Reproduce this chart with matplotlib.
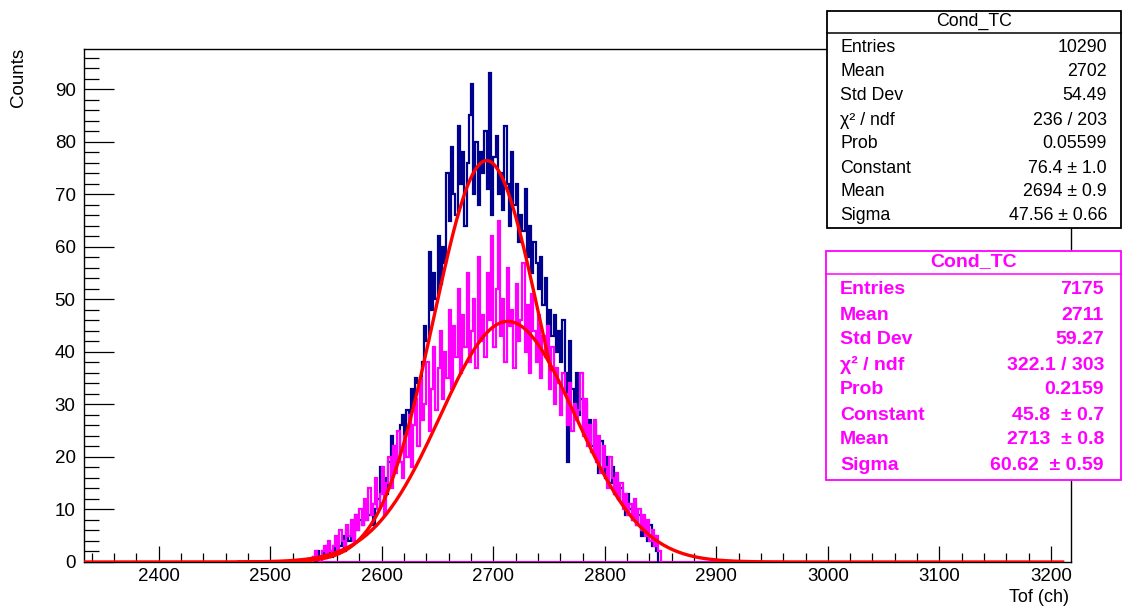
import numpy as np
import matplotlib
matplotlib.use('Agg')
import matplotlib.pyplot as plt
from matplotlib.patches import Rectangle
from matplotlib.ticker import MultipleLocator
from matplotlib.lines import Line2D

plt.rcParams['font.family'] = ['Liberation Sans', 'DejaVu Sans']

# ---------------- data ----------------
bin_start = 2536
bin_width = 2

blue_counts = [
    0, 1, 0, 2, 1, 2,
    1, 3, 2, 1, 3, 2,
    4, 3, 5, 2, 6, 4,
    7, 5, 9, 6, 8, 7,
    10, 8, 9, 11, 7, 10,
    12, 18, 14, 16, 13, 19,
    24, 20, 22, 19, 26, 28,
    24, 29, 27, 33, 30, 35,
    34, 31, 38, 45, 42, 59,
    48, 55, 50, 62, 53, 60,
    57, 74, 65, 79, 70, 66,
    83, 72, 78, 64, 76, 85,
    91, 70, 80, 68, 78, 74,
    82, 71, 93, 66, 77, 81,
    70, 74, 67, 83, 72, 64,
    78, 68, 72, 61, 66, 63,
    71, 58, 64, 55, 61, 57,
    52, 58, 49, 54, 45, 48,
    43, 47, 40, 44, 38, 46,
    36, 19, 42, 33, 30, 36,
    28, 31, 26, 30, 24, 27,
    22, 26, 20, 17, 23, 19,
    16, 20, 15, 18, 13, 16,
    12, 14, 11, 9, 13, 10,
    8, 11, 7, 9, 5, 8,
    6, 4, 7, 3, 5, 2,
]

magenta_counts = [
    0, 1, 2, 1, 0, 2,
    3, 1, 4, 2, 3, 5,
    2, 6, 4, 3, 7, 5,
    8, 4, 9, 6, 10, 7,
    12, 8, 14, 9, 11, 16,
    10, 13, 18, 9, 15, 20,
    14, 22, 17, 25, 19, 16,
    24, 20, 28, 18, 26, 31,
    22, 35, 27, 30, 38, 25,
    33, 41, 29, 37, 44, 31,
    40, 35, 48, 33, 45, 39,
    52, 36, 47, 41, 55, 38,
    44, 50, 37, 58, 42, 47,
    39, 55, 46, 62, 41, 52,
    65, 43, 50, 38, 56, 45,
    48, 37, 53, 42, 46, 57,
    40, 49, 36, 51, 44, 38,
    47, 35, 43, 39, 45, 33,
    41, 30, 37, 34, 28, 36,
    32, 26, 34, 25, 30, 27,
    29, 36, 24, 31, 22, 26,
    21, 27, 19, 24, 17, 22,
    18, 14, 20, 16, 13, 17,
    12, 15, 10, 13, 9, 11,
    8, 12, 7, 10, 6, 9,
    5, 8, 4, 6, 3, 5,
    2,
]

# Gaussian fit results (from the stats boxes)
blue_fit_const, blue_fit_mean, blue_fit_sigma = 76.4, 2694.0, 47.56
blue_fit_range = (2470, 2752)
mag_fit_const, mag_fit_mean, mag_fit_sigma = 45.8, 2713.0, 60.62
mag_fit_range = (2333, 3212)
mag_hist_zero_range = (2470, 2960)

x_range = (2333, 3218)
y_max = 97.65

xlabel = "Tof (ch)"
ylabel = "Counts"

stats_title = "Cond_TC"
stats1_labels = ["Entries", "Mean", "Std Dev", "\u03c7\u00b2 / ndf", "Prob", "Constant", "Mean", "Sigma"]
stats1_values = ["10290", "2702", "54.49", "236 / 203", "0.05599", "76.4 \u00b1 1.0", "2694 \u00b1 0.9", "47.56 \u00b1 0.66"]
stats2_labels = ["Entries", "Mean", "Std Dev", "\u03c7\u00b2 / ndf", "Prob", "Constant", "Mean", "Sigma"]
stats2_values = ["7175", "2711", "59.27", "322.1 / 303", "0.2159", "45.8  \u00b1 0.7", "2713  \u00b1 0.8", "60.62  \u00b1 0.59"]

# ---------------- figure ----------------
W, H = 1123, 608
fig = plt.figure(figsize=(W / 100, H / 100), dpi=100)
L, R, T, B = 84, 1071, 49, 562
ax = fig.add_axes([L / W, 1 - B / H, (R - L) / W, (B - T) / H])

NAVY = '#00008f'
MAG = '#ff00ff'
RED = '#ff0000'

edges_b = bin_start + bin_width * np.arange(len(blue_counts) + 1)
edges_m = bin_start + bin_width * np.arange(len(magenta_counts) + 1)

ax.hlines(0, *mag_hist_zero_range, color=MAG, lw=1.6, zorder=2)
ax.stairs(blue_counts, edges_b, color=NAVY, lw=1.6, zorder=3)
ax.stairs(magenta_counts, edges_m, color=MAG, lw=1.6, zorder=4)

xm = np.linspace(*mag_fit_range, 400)
ax.plot(xm, mag_fit_const * np.exp(-0.5 * ((xm - mag_fit_mean) / mag_fit_sigma) ** 2),
        color=RED, lw=2.4, zorder=5, solid_capstyle='butt')
xb = np.linspace(*blue_fit_range, 300)
ax.plot(xb, blue_fit_const * np.exp(-0.5 * ((xb - blue_fit_mean) / blue_fit_sigma) ** 2),
        color=RED, lw=2.4, zorder=5, solid_capstyle='butt')

ax.set_xlim(*x_range)
ax.set_ylim(0, y_max)

ax.xaxis.set_major_locator(MultipleLocator(100))
ax.xaxis.set_minor_locator(MultipleLocator(20))
ax.yaxis.set_major_locator(MultipleLocator(10))
ax.yaxis.set_minor_locator(MultipleLocator(2))

ax.tick_params(axis='x', which='major', direction='in', length=11.5, width=0.9, labelsize=13.5, pad=4)
ax.tick_params(axis='x', which='minor', direction='in', length=6.2, width=0.9)
ax.tick_params(axis='y', which='major', direction='in', length=21.5, width=0.9, labelsize=13.5, pad=6)
ax.tick_params(axis='y', which='minor', direction='in', length=10.8, width=0.9)
ax.tick_params(top=False, right=False)
for s in ax.spines.values():
    s.set_linewidth(1.0)

fig.text(1069 / W, 1 - 597 / H, xlabel, ha='right', va='center', fontsize=13)
fig.text(19 / W, 1 - 48 / H, ylabel, ha='center', va='top', rotation=90, fontsize=13.5)

# ---------------- stats boxes ----------------
def px(x, y):
    return x / W, 1 - y / H

def stats_box(x0, x1, y0, ysep, y1, color, title, labels, values, rows_y, fs, weight, tx0, tx1, title_y):
    rect = Rectangle(px(x0, y1), (x1 - x0) / W, (y1 - y0) / H, transform=fig.transFigure,
                     facecolor='white', edgecolor=color, lw=1.3, zorder=10)
    fig.patches.append(rect)
    fig.lines.append(Line2D([x0 / W, x1 / W], [1 - ysep / H] * 2, transform=fig.transFigure,
                            color=color, lw=1.1, zorder=11))
    fig.text(*px((x0 + x1) / 2, title_y), title, ha='center', va='center', color=color,
             fontsize=fs, fontweight=weight, zorder=12)
    for lab, val, yy in zip(labels, values, rows_y):
        fig.text(*px(tx0, yy), lab, ha='left', va='center', color=color, fontsize=fs,
                 fontweight=weight, zorder=12)
        fig.text(*px(tx1, yy), val, ha='right', va='center', color=color, fontsize=fs,
                 fontweight=weight, zorder=12)

stats_box(827, 1121, 11, 33, 228, 'black', stats_title, stats1_labels, stats1_values,
          [48, 72, 96, 120, 144, 168, 192, 215], 12.8, 'normal', 840, 1107, 21)
stats_box(826, 1121, 251, 274, 480, MAG, stats_title, stats2_labels, stats2_values,
          [290, 315, 340, 365, 390, 415, 440, 465], 14, 'bold', 840, 1104, 262)

fig.savefig('out.png', dpi=100)
